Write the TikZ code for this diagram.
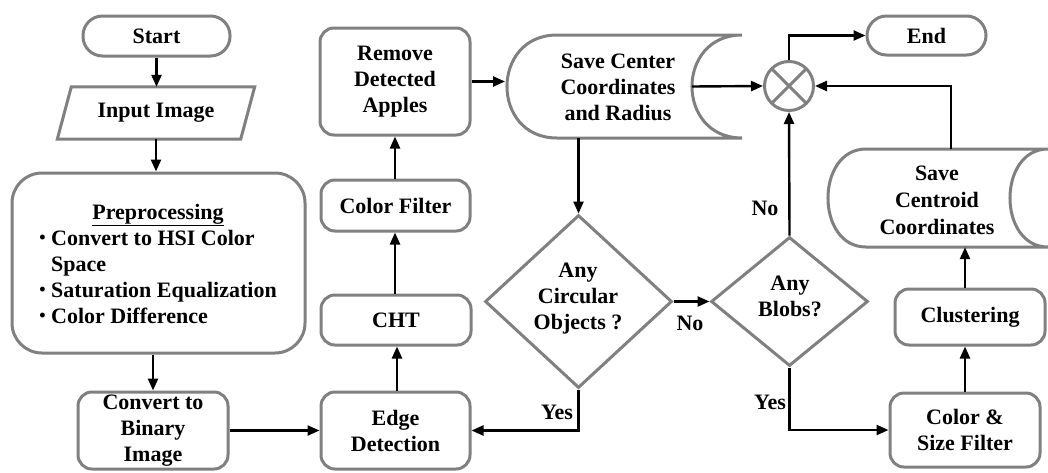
\documentclass[tikz,border=0pt]{standalone}
\usepackage{fontspec}
\setmainfont{Liberation Serif}
\usetikzlibrary{arrows.meta,calc,shapes.geometric}
\definecolor{bordergray}{HTML}{808080}
\begin{document}
\begin{tikzpicture}[x=1pt,y=-1pt,
  font=\fontsize{22}{26}\selectfont\bfseries,
  shp/.style={draw=bordergray, line width=3pt},
  box/.style={shp, rounded corners=14pt, inner sep=0pt, align=center},
  term/.style={shp, rounded corners=19.5pt, inner sep=0pt},
  txt/.style={inner sep=0pt, align=center},
  arr/.style={line width=2.4pt, -{Triangle[length=12pt,width=10pt]}},
  lab/.style={inner sep=0pt},
  bul/.style={inner sep=0pt, anchor=base, font=\fontsize{18}{18}\selectfont\bfseries}]
\useasboundingbox (0,0) rectangle (1048,472);

% terminals
\node[term, minimum width=147, minimum height=40] (start) at (156.5,36) {Start};
\node[term, minimum width=119, minimum height=39] (end) at (926.5,35.5) {End};

% input parallelogram
\node[txt, minimum width=183, minimum height=52] (input) at (156,113) {Input Image};
\draw[shp] ($(input.north west)+(7,0)$) -- ($(input.north east)+(7,0)$)
  -- ($(input.south east)+(-7,0)$) -- ($(input.south west)+(-7,0)$) -- cycle;

% preprocessing
\node[box, rounded corners=30pt, minimum width=293, minimum height=180] (pre) at (158.5,263) {};
\node[lab, anchor=base] (pret) at (158,219) {\underline{Preprocessing}};
\node[bul] (pb1) at (42.5,243.5) {•};
\node[lab, anchor=base west] (pl1) at (51,245) {Convert to HSI Color};
\node[lab, anchor=base west] (pl1b) at (51,271) {Space};
\node[bul] (pb2) at (42.5,295.5) {•};
\node[lab, anchor=base west] (pl2) at (51,297) {Saturation Equalization};
\node[bul] (pb3) at (42.5,321.5) {•};
\node[lab, anchor=base west] (pl3) at (51,323) {Color Difference};

% boxes
\node[box, minimum width=150, minimum height=77] (bin) at (153,430.5) {Convert to\\Binary\\Image};
\node[box, minimum width=149, minimum height=77] (edge) at (395.5,430.5) {Edge\\Detection};
\node[box, minimum width=150, minimum height=50] (cht) at (396,320) {CHT};
\node[box, minimum width=149, minimum height=51] (cf) at (395.5,205.5) {Color Filter};
\node[box, minimum width=150, minimum height=107] (rem) at (395,81.5) {Remove\\Detected\\Apples};
\node[box, minimum width=150, minimum height=56] (clus) at (970,317) {Clustering};
\node[box, minimum width=150, minimum height=74] (csf) at (965,430) {Color \&\\Size Filter};

% stored data: save center
\node[inner sep=0pt, minimum width=235, minimum height=103] (savec) at (624.5,86.5) {};
\draw[shp] (557,35) -- (742,35) .. controls (675.3,35) and (675.3,138) .. (742,138)
  -- (557,138) .. controls (490.3,138) and (490.3,35) .. (557,35) -- cycle;
\node[txt] (savect) at (618,87.5) {Save Center\\Coordinates\\and Radius};
\coordinate (savecr) at (692,86.5);

% stored data: save centroid
\node[inner sep=0pt, minimum width=220, minimum height=98] (scd) at (938,198) {};
\draw[shp] (866,149) -- (1048,149) .. controls (997.3,149) and (997.3,247) .. (1048,247)
  -- (866,247) .. controls (815.3,247) and (815.3,149) .. (866,149) -- cycle;
\node[txt, font=\fontsize{22}{27}\selectfont\bfseries] (scdt) at (937,200) {Save\\Centroid\\Coordinates};
\coordinate (scdtop) at (951,149);

% decisions
\node[diamond, shp, inner sep=0pt, minimum width=187, minimum height=173] (d1) at (578.5,301.5) {};
\node[txt] (d1t) at (578,299) {Any\\Circular\\Objects ?};
\node[diamond, shp, inner sep=0pt, minimum width=157, minimum height=129] (d2) at (789.5,301.5) {};
\node[txt] (d2t) at (790,296.5) {Any\\Blobs?};

% summing junction
\node[circle, shp, inner sep=0pt, minimum size=49] (x) at (789,86) {};
\draw[draw=bordergray, line width=3pt] ($(x.center)+(-17,-17)$) -- ($(x.center)+(17,17)$)
  ($(x.center)+(17,-17)$) -- ($(x.center)+(-17,17)$);

% connectors
\draw[arr] (start) -- (input.north -| start);
\draw[arr] (input.south) -- (pre.north -| input.south);
\draw[arr] (bin.north |- pre.south) -- (bin.north);
\draw[arr] (bin.east) -- (edge.west);
\draw[arr] (edge.north -| 397,0) -- (cht.south -| 397,0);
\draw[arr] (cht.north -| 395,0) -- (cf.south -| 395,0);
\draw[arr] (cf.north -| 395,0) -- (rem.south -| 395,0);
\draw[arr] (rem.east) -- (505,81.5);
\draw[arr] (d1.north |- savec.south) -- (d1.north);
\draw[arr] (d1.south) |- (edge.east);
\draw[arr] (d1.east) -- (d2.west);
\draw[arr] (d2.north) -- (x.south);
\draw[arr] (savecr) -- (x.west);
\draw[arr] (x.north) |- (end.west);
\draw[arr] (scdtop) |- (x.east);
\draw[arr] (csf.north) -- (csf.north |- clus.south);
\draw[arr] (clus.north -| csf.north) -- (scd.south -| csf.north);
\draw[arr] (d2.south) |- (csf.west);

% labels
\node[lab] (yes1) at (557,412) {Yes};
\node[lab] (no1) at (690,323) {No};
\node[lab] (no2) at (765,208) {No};
\node[lab] (yes2) at (770,402) {Yes};
\end{tikzpicture}
\end{document}
